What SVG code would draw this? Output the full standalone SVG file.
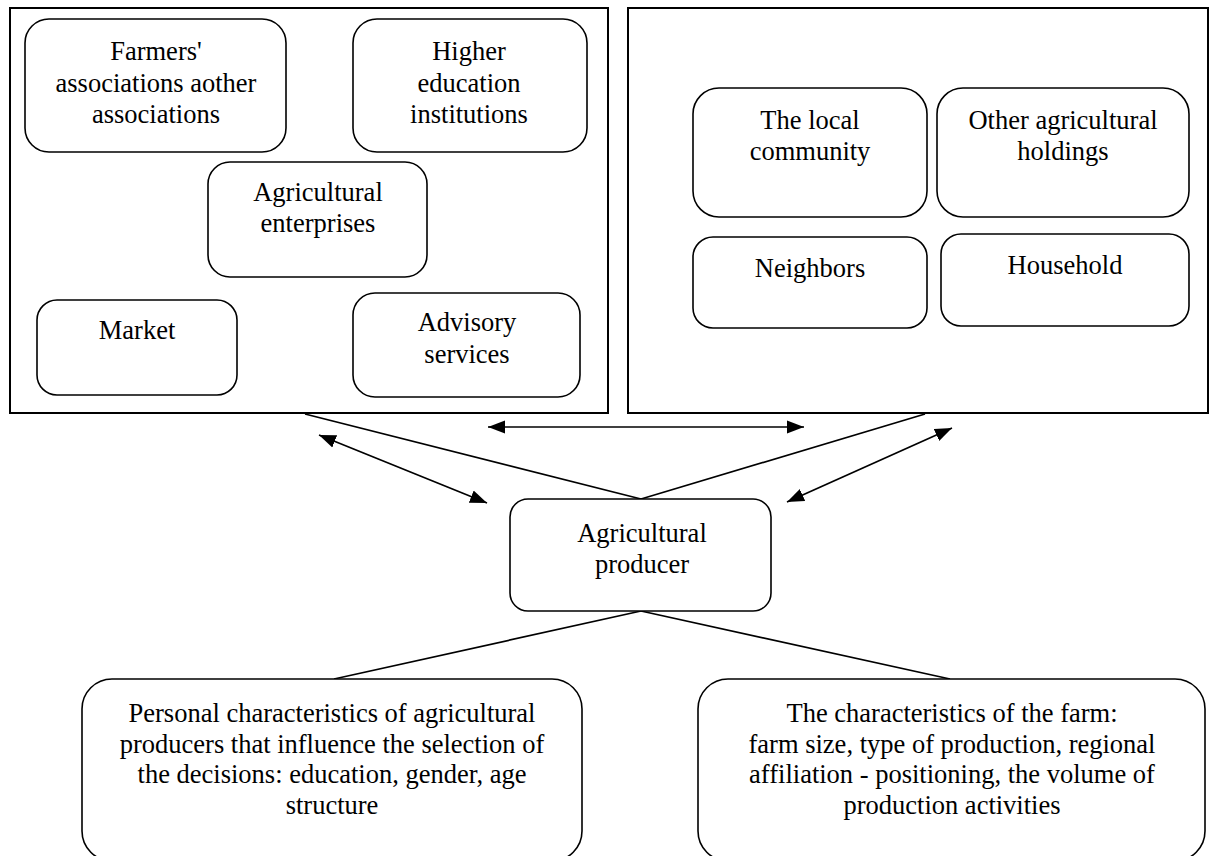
<svg xmlns="http://www.w3.org/2000/svg" width="1216" height="856" viewBox="0 0 1216 856">
<style>
.outer{fill:none;stroke:#000;stroke-width:2}
.node{fill:#fff;stroke:#000;stroke-width:1.6}
.t{font-family:"Liberation Serif","Times New Roman",serif;font-size:26.5px;fill:#000;text-anchor:middle}
.ln{stroke:#000;stroke-width:1.7;fill:none}
.ar{stroke:#000;stroke-width:1.7;fill:none;marker-start:url(#ah);marker-end:url(#ah)}
</style>
<defs>
<marker id="ah" markerUnits="userSpaceOnUse" markerWidth="18" markerHeight="14" refX="17" refY="6.5" orient="auto-start-reverse" viewBox="0 0 18 13">
<path d="M0,0 L17,6.5 L0,13 z" fill="#000"/>
</marker>
</defs>
<rect width="1216" height="856" fill="#fff"/>
<g id="group-left">
<rect class="outer" x="10" y="8" width="598" height="405"/>
</g>
<g id="group-right">
<rect class="outer" x="628" y="8" width="580" height="405"/>
</g>
<g id="connectors">
<line class="ln" x1="305" y1="414" x2="641" y2="499"/>
<line class="ln" x1="925" y1="414" x2="641" y2="499"/>
<line class="ln" x1="641" y1="611" x2="334" y2="679"/>
<line class="ln" x1="641" y1="611" x2="950" y2="679"/>
<line class="ar" x1="488" y1="427" x2="804" y2="427"/>
<line class="ar" x1="319" y1="435" x2="487" y2="503"/>
<line class="ar" x1="952" y1="428" x2="787" y2="502"/>
</g>
<g id="farmers">
<rect class="node" x="25" y="19" width="261" height="133" rx="24"/>
<text class="t" x="156" y="60">Farmers'</text>
<text class="t" x="156" y="92">associations aother</text>
<text class="t" x="156" y="123">associations</text>
</g>
<g id="higher-education">
<rect class="node" x="353" y="19" width="234" height="133" rx="24"/>
<text class="t" x="469" y="60">Higher</text>
<text class="t" x="469" y="92">education</text>
<text class="t" x="469" y="123">institutions</text>
</g>
<g id="agricultural-enterprises">
<rect class="node" x="208" y="162" width="219" height="115" rx="22"/>
<text class="t" x="318" y="201">Agricultural</text>
<text class="t" x="318" y="232">enterprises</text>
</g>
<g id="market">
<rect class="node" x="37" y="300" width="200" height="95" rx="20"/>
<text class="t" x="137" y="339">Market</text>
</g>
<g id="advisory-services">
<rect class="node" x="353" y="293" width="227" height="104" rx="22"/>
<text class="t" x="467" y="331">Advisory</text>
<text class="t" x="467" y="363">services</text>
</g>
<g id="local-community">
<rect class="node" x="693" y="88" width="234" height="129" rx="26"/>
<text class="t" x="810" y="129">The local</text>
<text class="t" x="810" y="160">community</text>
</g>
<g id="other-holdings">
<rect class="node" x="937" y="88" width="252" height="129" rx="26"/>
<text class="t" x="1063" y="129">Other agricultural</text>
<text class="t" x="1063" y="160">holdings</text>
</g>
<g id="neighbors">
<rect class="node" x="693" y="237" width="234" height="91" rx="20"/>
<text class="t" x="810" y="277">Neighbors</text>
</g>
<g id="household">
<rect class="node" x="941" y="234" width="248" height="92" rx="20"/>
<text class="t" x="1065" y="274">Household</text>
</g>
<g id="producer">
<rect class="node" x="510" y="499" width="261" height="112" rx="18"/>
<text class="t" x="642" y="542">Agricultural</text>
<text class="t" x="642" y="573">producer</text>
</g>
<g id="personal-characteristics">
<rect class="node" x="82" y="679" width="500" height="182" rx="30"/>
<text class="t" x="332" y="722">Personal characteristics of agricultural</text>
<text class="t" x="332" y="752.5">producers that influence the selection of</text>
<text class="t" x="332" y="783">the decisions: education, gender, age</text>
<text class="t" x="332" y="813.5">structure</text>
</g>
<g id="farm-characteristics">
<rect class="node" x="698" y="679" width="507" height="182" rx="30"/>
<text class="t" x="952" y="722">The characteristics of the farm:</text>
<text class="t" x="952" y="752.5">farm size, type of production, regional</text>
<text class="t" x="952" y="783">affiliation - positioning, the volume of</text>
<text class="t" x="952" y="813.5">production activities</text>
</g>
</svg>
